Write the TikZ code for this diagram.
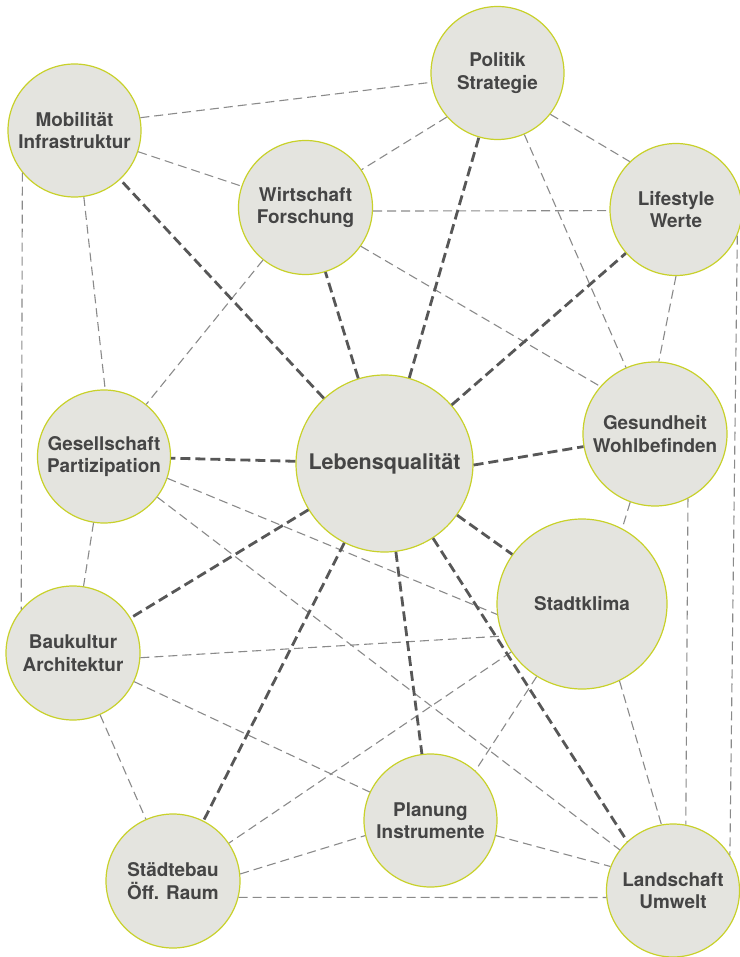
\documentclass[tikz,border=0pt]{standalone}
\usepackage{fontspec}
\setmainfont{TeX Gyre Heros}
\definecolor{fillc}{HTML}{E4E4DF}
\definecolor{ringc}{HTML}{C8D12A}
\definecolor{txtc}{HTML}{454545}
\definecolor{thickc}{HTML}{575757}
\definecolor{thinc}{HTML}{8A8A8A}
\tikzset{
  bub/.style={circle, draw=ringc, line width=1.2pt, fill=fillc, inner sep=0pt,
    align=center, text=txtc, font=\fontsize{18.9}{22.5}\selectfont\bfseries},
  bigbub/.style={bub, font=\fontsize{21.5}{25}\selectfont\bfseries},
  strong/.style={draw=thickc, line width=2.8pt, dash pattern=on 10pt off 5pt},
  weak/.style={draw=thinc, line width=1.1pt, dash pattern=on 9pt off 5pt},
}
\begin{document}
\begin{tikzpicture}[x=1pt,y=-1pt]
\useasboundingbox (0,0) rectangle (739,957);
\node[bub, minimum size=133pt] (pol) at (497.5,73) {Politik\\Strategie};
\node[bub, minimum size=133pt] (mob) at (74.5,130.5) {Mobilität\\Infrastruktur};
\node[bub, minimum size=134pt] (wir) at (305.5,207.5) {Wirtschaft\\Forschung};
\node[bub, minimum size=132pt] (lif) at (676,209.5) {Lifestyle\\Werte};
\node[bub, minimum size=144pt] (ges) at (655,434) {Gesundheit\\Wohlbefinden};
\node[bigbub, minimum size=177pt] (leb) at (384.5,463.5) {Lebensqualität};
\node[bub, minimum size=133pt] (gsl) at (104,456.5) {Gesellschaft\\Partizipation};
\node[bub, minimum size=170pt] (skl) at (582,604) {Stadtklima};
\node[bub, minimum size=134pt] (bau) at (73,653) {Baukultur\\Architektur};
\node[bub, minimum size=133pt] (pla) at (430.5,820.5) {Planung\\Instrumente};
\node[bub, minimum size=134pt] (stb) at (173,881) {Städtebau\\Öff. Raum};
\node[bub, minimum size=133pt] (lan) at (673,890.5) {Landschaft\\Umwelt};

% thin connectors
\draw[weak] (mob.11) -- (pol.188);
\draw[weak] (mob) -- (wir);
\draw[weak] (mob.278) -- (gsl.89);
\draw[weak] (mob.219) -- (bau.140);
\draw[weak] (pol.221) -- (wir.34);
\draw[weak] (pol.322) -- (lif.134);
\draw[weak] (pol) -- (ges);
\draw[weak] (wir.357) -- (lif.181);
\draw[weak] (wir.325) -- (ges.139);
\draw[weak] (wir) -- (gsl);
\draw[weak] (lif.270) -- (ges.87);
\draw[weak] (lif.337.5) -- (lan.32.6);
\draw[weak] (ges.250) -- (skl.62.5);
\draw[weak] (ges.297) -- (lan.79);
\draw[weak] (gsl.341) -- (skl.187);
\draw[weak] (gsl) -- (lan);
\draw[weak] (gsl) -- (bau);
\draw[weak] (bau.356) -- (skl.202);
\draw[weak] (bau) -- (pla);
\draw[weak] (bau) -- (stb);
\draw[weak] (skl) -- (stb);
\draw[weak] (skl.238) -- (pla.48);
\draw[weak] (skl.296) -- (lan.100);
\draw[weak] (stb.6) -- (pla.193);
\draw[weak] (stb.346) -- (lan.186);
\draw[weak] (pla.347) -- (lan.159);

% thick connectors to the centre
\draw[strong] (leb) -- (mob);
\draw[strong] (leb) -- (wir);
\draw[strong] (leb) -- (pol);
\draw[strong] (leb) -- (lif);
\draw[strong] (leb) -- (gsl);
\draw[strong] (leb.359) -- (ges.190);
\draw[strong] (leb) -- (skl);
\draw[strong] (leb) -- (bau);
\draw[strong] (leb) -- (stb);
\draw[strong] (leb) -- (pla);
\draw[strong] (leb.303) -- (lan.133.5);
\end{tikzpicture}
\end{document}
